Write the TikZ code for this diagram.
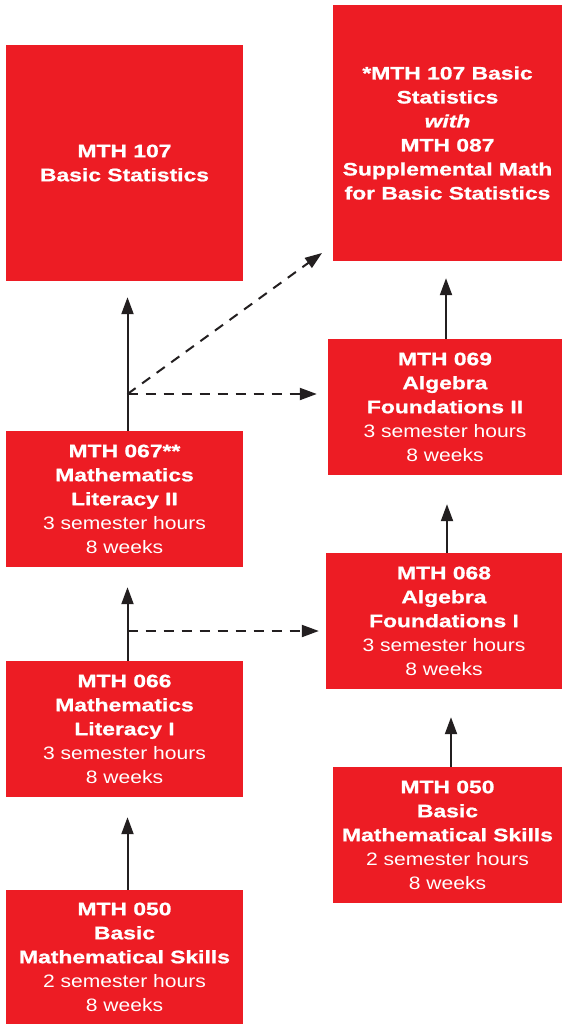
\documentclass[tikz,border=0pt]{standalone}
\usepackage{fontspec}
\setmainfont{Liberation Sans}[
  UprightFeatures={FakeStretch=1.17},
  BoldFeatures={FakeStretch=1.27,FakeBold=1},
  BoldItalicFeatures={FakeStretch=1.27,FakeBold=1}]
\usetikzlibrary{arrows.meta}
\definecolor{boxred}{HTML}{ED1C24}
\definecolor{inkline}{HTML}{231F20}
\begin{document}
\begin{tikzpicture}[x=1pt,y=-1pt,
  course/.style={fill=boxred,text=white,align=center,inner sep=0pt,
    font=\fontsize{18}{24}\selectfont},
  solidarr/.style={draw=inkline,line width=2pt,
    -{Triangle[length=17pt,width=12pt]}},
  dasharr/.style={draw=inkline,line width=2pt,dash pattern=on 10pt off 8pt,
    -{Triangle[length=17pt,width=12pt]}}]
\useasboundingbox (0,0) rectangle (562,1024);
\fill[white] (0,0) rectangle (562,1024);

\node[course,minimum width=237pt,minimum height=236pt] (b107) at (124.5,163)
  {\textbf{MTH 107}\\\textbf{Basic Statistics}};
\node[course,minimum width=229pt,minimum height=256pt] (b107s) at (447.5,133)
  {\textbf{*MTH 107 Basic}\\\textbf{Statistics}\\\textbf{\textit{with}}\\\textbf{MTH 087}\\\textbf{Supplemental Math}\\\textbf{for Basic Statistics}};
\node[course,minimum width=234pt,minimum height=136pt] (b069) at (445,407)
  {\textbf{MTH 069}\\\textbf{Algebra}\\\textbf{Foundations II}\\3 semester hours\\8 weeks};
\node[course,minimum width=237pt,minimum height=136pt] (b067) at (124.5,499)
  {\textbf{MTH 067**}\\\textbf{Mathematics}\\\textbf{Literacy II}\\3 semester hours\\8 weeks};
\node[course,minimum width=236pt,minimum height=136pt] (b068) at (444,621)
  {\textbf{MTH 068}\\\textbf{Algebra}\\\textbf{Foundations I}\\3 semester hours\\8 weeks};
\node[course,minimum width=237pt,minimum height=136pt] (b066) at (124.5,729)
  {\textbf{MTH 066}\\\textbf{Mathematics}\\\textbf{Literacy I}\\3 semester hours\\8 weeks};
\node[course,minimum width=229pt,minimum height=136pt] (b050r) at (447.5,835)
  {\textbf{MTH 050}\\\textbf{Basic}\\\textbf{Mathematical Skills}\\2 semester hours\\8 weeks};
\node[course,minimum width=237pt,minimum height=134pt] (b050l) at (124.5,957)
  {\textbf{MTH 050}\\\textbf{Basic}\\\textbf{Mathematical Skills}\\2 semester hours\\8 weeks};

% start points of the solid connectors
\coordinate (s067) at ([xshift=3pt]b067.north);
\coordinate (s066) at ([xshift=3pt]b066.north);
\coordinate (s050l) at ([xshift=3pt]b050l.north);
\coordinate (s069) at ([xshift=1pt]b069.north);
\coordinate (s068) at ([xshift=3pt]b068.north);
\coordinate (s050r) at ([xshift=3.5pt]b050r.north);
% left column
\draw[solidarr,shorten >=16pt] (s067) -- (s067 |- b107.south);
\draw[solidarr,shorten >=20pt] (s066) -- (s066 |- b067.south);
\draw[solidarr,shorten >=20pt] (s050l) -- (s050l |- b066.south);
% right column
\draw[solidarr,shorten >=17pt] (s069) -- (s069 |- b107s.south);
\draw[solidarr,shorten >=29pt] (s068) -- (s068 |- b069.south);
\draw[solidarr,shorten >=28pt] (s050r) -- (s050r |- b068.south);
% dashed
\coordinate (j1) at (127.5,394);
\coordinate (t1) at (322,253);
\coordinate (j2) at (127.5,631);
\draw[dasharr] (j1) -- (t1);
\draw[dasharr,shorten >=11pt] (j1) -- (j1 -| b069.west);
\draw[dasharr,shorten >=7pt] (j2) -- (j2 -| b068.west);
\end{tikzpicture}
\end{document}
